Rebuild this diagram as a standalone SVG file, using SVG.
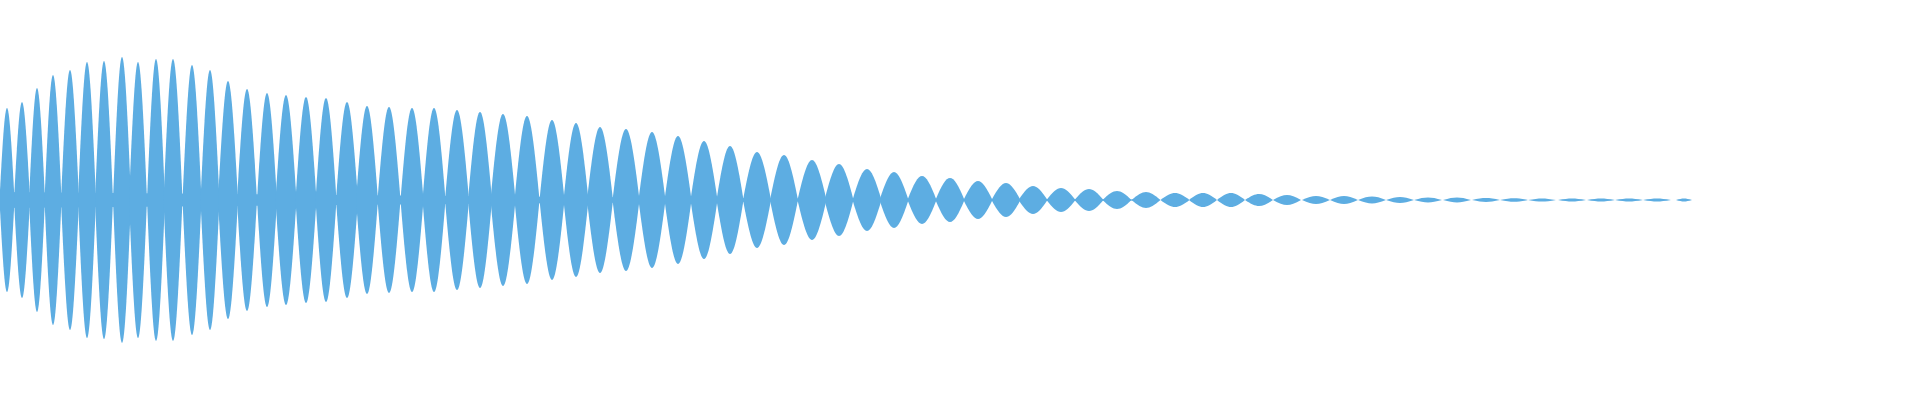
<svg xmlns="http://www.w3.org/2000/svg" xmlns:xlink="http://www.w3.org/1999/xlink" width="1920" height="400" viewBox="0 0 1920 400">
<defs>
<path id="L" d="M-0.5,0 C-0.076,-1.333 0.076,-1.333 0.5,0 C0.076,1.333 -0.076,1.333 -0.5,0Z"/>
</defs>
<style>use,polygon{fill:#5dade2}</style>
<rect width="1920" height="400" fill="#fff"/>
<g id="wave">
<polygon points="0,192 450,196 800,198.5 1150,199.5 1150,200.5 800,201.5 450,204 0,208"/>
<use xlink:href="#L" transform="translate(7,200) scale(15,92)"/>
<use xlink:href="#L" transform="translate(22,200) scale(16,98)"/>
<use xlink:href="#L" transform="translate(37,200) scale(16,112)"/>
<use xlink:href="#L" transform="translate(53,200) scale(17,125)"/>
<use xlink:href="#L" transform="translate(70,200) scale(18,130)"/>
<use xlink:href="#L" transform="translate(87,200) scale(18,138)"/>
<use xlink:href="#L" transform="translate(104,200) scale(18,139)"/>
<use xlink:href="#L" transform="translate(122,200) scale(18,143)"/>
<use xlink:href="#L" transform="translate(138,200) scale(18,138)"/>
<use xlink:href="#L" transform="translate(156,200) scale(18,141)"/>
<use xlink:href="#L" transform="translate(173,200) scale(19,141)"/>
<use xlink:href="#L" transform="translate(192,200) scale(19,135)"/>
<use xlink:href="#L" transform="translate(210,200) scale(19,130)"/>
<use xlink:href="#L" transform="translate(228,200) scale(20,119)"/>
<use xlink:href="#L" transform="translate(247,200) scale(20,111)"/>
<use xlink:href="#L" transform="translate(267,200) scale(20,107)"/>
<use xlink:href="#L" transform="translate(286,200) scale(21,105)"/>
<use xlink:href="#L" transform="translate(306,200) scale(21,103)"/>
<use xlink:href="#L" transform="translate(326,200) scale(21,102)"/>
<use xlink:href="#L" transform="translate(347,200) scale(22,98)"/>
<use xlink:href="#L" transform="translate(367,200) scale(22,94)"/>
<use xlink:href="#L" transform="translate(389,200) scale(23,93)"/>
<use xlink:href="#L" transform="translate(412,200) scale(23,92)"/>
<use xlink:href="#L" transform="translate(434,200) scale(23,92)"/>
<use xlink:href="#L" transform="translate(457,200) scale(24,90)"/>
<use xlink:href="#L" transform="translate(480,200) scale(24,88)"/>
<use xlink:href="#L" transform="translate(503,200) scale(25,86)"/>
<use xlink:href="#L" transform="translate(527,200) scale(25,84)"/>
<use xlink:href="#L" transform="translate(552,200) scale(25,80)"/>
<use xlink:href="#L" transform="translate(576,200) scale(25,77)"/>
<use xlink:href="#L" transform="translate(600,200) scale(26,73)"/>
<use xlink:href="#L" transform="translate(626,200) scale(27,71)"/>
<use xlink:href="#L" transform="translate(652,200) scale(27,68)"/>
<use xlink:href="#L" transform="translate(678,200) scale(27,64)"/>
<use xlink:href="#L" transform="translate(704,200) scale(27,59)"/>
<use xlink:href="#L" transform="translate(730,200) scale(27,54)"/>
<use xlink:href="#L" transform="translate(757,200) scale(28,48)"/>
<use xlink:href="#L" transform="translate(784,200) scale(28,45)"/>
<use xlink:href="#L" transform="translate(812,200) scale(29,40)"/>
<use xlink:href="#L" transform="translate(839,200) scale(29,36)"/>
<use xlink:href="#L" transform="translate(867,200) scale(29,31)"/>
<use xlink:href="#L" transform="translate(894,200) scale(29,28)"/>
<use xlink:href="#L" transform="translate(922,200) scale(29,24)"/>
<use xlink:href="#L" transform="translate(950,200) scale(29,22)"/>
<use xlink:href="#L" transform="translate(978,200) scale(29,19)"/>
<use xlink:href="#L" transform="translate(1006,200) scale(29,17)"/>
<use xlink:href="#L" transform="translate(1033,200) scale(29,14)"/>
<use xlink:href="#L" transform="translate(1061,200) scale(29,12)"/>
<use xlink:href="#L" transform="translate(1089,200) scale(29,11)"/>
<use xlink:href="#L" transform="translate(1117,200) scale(29,9)"/>
<use xlink:href="#L" transform="translate(1146,200) scale(29,8)"/>
<use xlink:href="#L" transform="translate(1175,200) scale(29,7)"/>
<use xlink:href="#L" transform="translate(1203,200) scale(28,7)"/>
<use xlink:href="#L" transform="translate(1231,200) scale(28,7)"/>
<use xlink:href="#L" transform="translate(1259,200) scale(28,6)"/>
<use xlink:href="#L" transform="translate(1287,200) scale(28,5)"/>
<use xlink:href="#L" transform="translate(1316,200) scale(28,4)"/>
<use xlink:href="#L" transform="translate(1344,200) scale(28,4)"/>
<use xlink:href="#L" transform="translate(1372,200) scale(28,3.5)"/>
<use xlink:href="#L" transform="translate(1400,200) scale(28,3)"/>
<use xlink:href="#L" transform="translate(1428,200) scale(28,2.5)"/>
<use xlink:href="#L" transform="translate(1457,200) scale(28,2.5)"/>
<use xlink:href="#L" transform="translate(1486,200) scale(28,2)"/>
<use xlink:href="#L" transform="translate(1514,200) scale(28,1.8)"/>
<use xlink:href="#L" transform="translate(1542,200) scale(28,1.6)"/>
<use xlink:href="#L" transform="translate(1572,200) scale(28,1.5)"/>
<use xlink:href="#L" transform="translate(1601,200) scale(28,1.5)"/>
<use xlink:href="#L" transform="translate(1629,200) scale(28,1.5)"/>
<use xlink:href="#L" transform="translate(1657,200) scale(28,1.5)"/>
<use xlink:href="#L" transform="translate(1684,200) scale(16,1.5)"/>
</g>
</svg>
